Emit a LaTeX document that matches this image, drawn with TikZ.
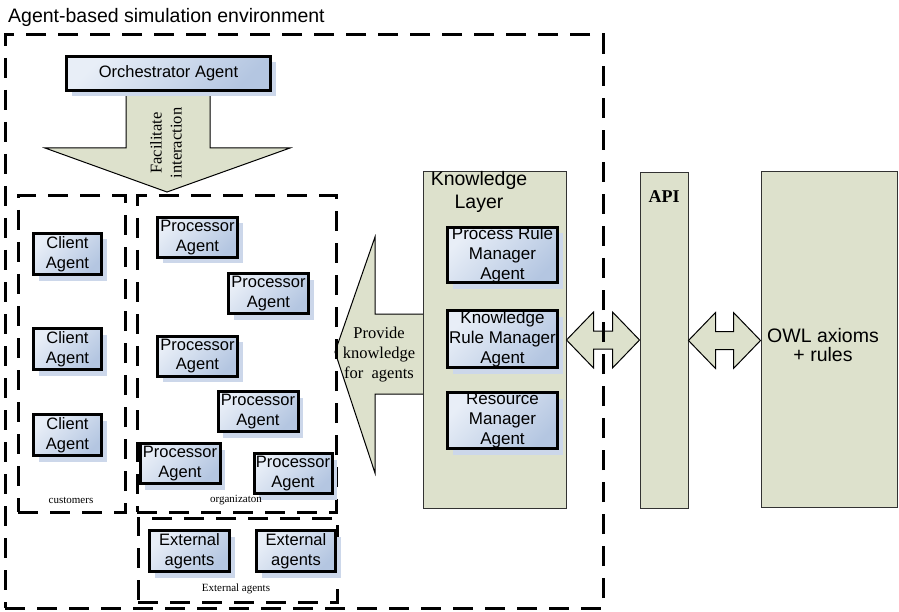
\documentclass[tikz,border=0pt]{standalone}
\usepackage{fontspec}
\setmainfont{Liberation Sans}
\newfontfamily\timesfont{Liberation Serif}
\usetikzlibrary{shadows,calc}

\definecolor{panel}{RGB}{221,225,204}
\definecolor{agentlight}{RGB}{232,238,247}
\definecolor{agentdark}{RGB}{180,198,225}
\definecolor{agentshadow}{RGB}{204,215,234}
\definecolor{panelline}{RGB}{50,50,50}

\tikzset{
  agent/.style={draw=black, line width=3pt, top color=agentlight, bottom color=agentdark,
    shading angle=45, general shadow={fill=agentshadow, shadow xshift=5pt, shadow yshift=-6pt},
    inner sep=0pt, align=center, font=\fontsize{16.5}{19.5}\selectfont},
  group/.style={draw=black, line width=3pt, dash pattern=on 20pt off 12pt, inner sep=0pt},
  panelbox/.style={draw=panelline, line width=1pt, fill=panel, inner sep=0pt},
  blockarrow/.style={draw=black, line width=1pt, fill=panel, line join=miter},
  caption/.style={font=\timesfont\fontsize{11}{13}\selectfont, inner sep=0pt},
  serifnote/.style={font=\timesfont\fontsize{16.5}{20}\selectfont, align=center, inner sep=0pt},
}

\begin{document}
\begin{tikzpicture}[x=1pt,y=-1pt]
\useasboundingbox (0,0) rectangle (899,612);

% block arrows (drawn first, the boxes cover their shaft ends)
\draw[blockarrow] (126,92) -- (126,148) -- (45,148) -- (167,192) -- (290,148)
  -- (210,148) -- (210,92) -- cycle;
\draw[blockarrow] (424,314) -- (375,314) -- (375,237) -- (335,352) -- (375,473)
  -- (375,394) -- (424,394) -- cycle;

% right-hand panels
\node[panelbox, minimum width=143pt, minimum height=336pt] (kl) at (494.5,340) {};
\node[panelbox, minimum width=48pt, minimum height=335pt] (api) at (664,340.5) {};
\node[panelbox, minimum width=136pt, minimum height=335pt] (owl) at (829,339.5) {};

\node[align=center, inner sep=0pt, font=\fontsize{19.5}{23}\selectfont] (kltitle) at (479,192) {Knowledge\\Layer};
\node[inner sep=0pt, font=\timesfont\bfseries\fontsize{18}{20}\selectfont] (apititle) at (664,197) {API};
\node[align=center, inner sep=0pt, font=\fontsize{19.5}{19}\selectfont] (owltext) at (823,345) {OWL axioms\\+ rules};

% double block arrows between the panels
\draw[blockarrow] let \p1=(kl.east), \p2=(api.west) in
  (\x1,\y1) -- ++(27pt,28pt) -- ++(0pt,-19pt) -- (\x2-27pt,\y1+9pt) -- ++(0pt,19pt)
  -- (\x2,\y1) -- ++(-27pt,-28pt) -- ++(0pt,19pt) -- (\x1+27pt,\y1-9pt) -- ++(0pt,-19pt) -- cycle;
\draw[blockarrow] let \p1=(api.east), \p2=(owl.west) in
  (\x1,\y1) -- ++(27pt,28pt) -- ++(0pt,-19pt) -- (\x2-27pt,\y1+9pt) -- ++(0pt,19pt)
  -- (\x2,\y1) -- ++(-27pt,-28pt) -- ++(0pt,19pt) -- (\x1+27pt,\y1-9pt) -- ++(0pt,-19pt) -- cycle;

% arrow labels
\node[serifnote, rotate=90] (facil) at (166,143) {Facilitate\\interaction};
\node[serifnote] (provide) at (379,355) {Provide\\knowledge\\for\ \ agents};

% dashed group borders
\node[group, minimum width=598pt, minimum height=573pt] (env) at (304,321.5) {};
\node[group, minimum width=107pt, minimum height=316pt] (customers) at (71.5,354) {};
\node[group, minimum width=199pt, minimum height=316pt] (organization) at (236.5,354) {};
\node[group, minimum width=199pt, minimum height=84pt] (external) at (237.5,560) {};

\node[anchor=base west, inner sep=0pt, font=\fontsize{19.5}{22}\selectfont] (title) at (8,23)
  {Agent-based simulation environment};

% agents
\node[agent, minimum width=204pt, minimum height=34pt] (orch) at (168.5,73.5) {Orchestrator Agent};

\node[agent, minimum width=68pt, minimum height=41pt] (c1) at (67.5,254) {Client\\Agent};
\node[agent, minimum width=68pt, minimum height=41pt] (c2) at (67.5,349) {Client\\Agent};
\node[agent, minimum width=68pt, minimum height=41pt] (c3) at (67.5,435) {Client\\Agent};

\node[agent, minimum width=80pt, minimum height=40pt] (p1) at (197.5,237.5) {Processor\\Agent};
\node[agent, minimum width=80pt, minimum height=40pt] (p2) at (268.5,293.5) {Processor\\Agent};
\node[agent, minimum width=80pt, minimum height=40pt] (p3) at (197.5,356) {Processor\\Agent};
\node[agent, minimum width=80pt, minimum height=40pt] (p4) at (258,411.5) {Processor\\Agent};
\node[agent, minimum width=80pt, minimum height=40pt] (p5) at (180,463.5) {Processor\\Agent};
\node[agent, minimum width=78pt, minimum height=40pt] (p6) at (293,473.5) {Processor\\Agent};

\node[agent, minimum width=80pt, minimum height=41pt] (e1) at (189.5,551) {External\\agents};
\node[agent, minimum width=79pt, minimum height=41pt] (e2) at (296,551) {External\\agents};

\node[agent, minimum width=110pt, minimum height=55pt, font=\fontsize{17}{20}\selectfont] (prm) at (502.5,255) {Process Rule\\Manager\\Agent};
\node[agent, minimum width=110pt, minimum height=57pt, font=\fontsize{17}{20}\selectfont] (krm) at (502.5,339) {Knowledge\\Rule Manager\\Agent};
\node[agent, minimum width=110pt, minimum height=56pt, font=\fontsize{17}{20}\selectfont] (rma) at (502.5,420.5) {Resource\\Manager\\Agent};

% group captions
\node[caption] (capcust) at (71,500) {customers};
\node[caption] (caporg) at (236,500) {organizaton};
\node[caption] (capext) at (236,589) {External agents};
\end{tikzpicture}
\end{document}
